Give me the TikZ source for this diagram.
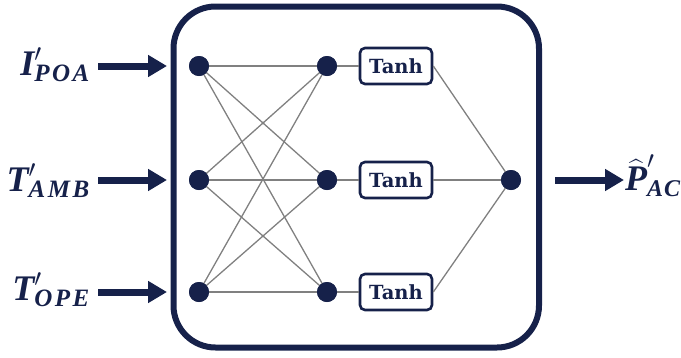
\documentclass[tikz,border=0pt]{standalone}
\usepackage{amsmath}
\usepackage{fontspec}
\newfontfamily\tanhfont{DejaVu Serif}
\newfontfamily\labfont{Liberation Serif}
\usetikzlibrary{arrows.meta}
\definecolor{navy}{RGB}{22,33,74}
\definecolor{wire}{RGB}{128,128,128}
\newcommand{\vv}[1]{\text{\labfont\bfseries\itshape #1}}
\newcommand{\vsub}[1]{\mbox{\labfont\bfseries\itshape\addfontfeatures{LetterSpace=10}\fontsize{25}{27}\selectfont #1}}
\newcommand{\vsubo}[1]{\mbox{\labfont\bfseries\itshape\addfontfeatures{LetterSpace=4}\fontsize{24}{27}\selectfont #1}}
\tikzset{
  neuron/.style={circle,fill=navy,minimum size=20pt,inner sep=0pt},
  actbox/.style={draw=navy,line width=2.6pt,rounded corners=5pt,minimum width=72pt,minimum height=36pt,inner sep=0pt,font=\tanhfont\bfseries\fontsize{19.5}{21}\selectfont,text=navy,fill=white},
  wire/.style={draw=wire,line width=1.3pt},
  bigarrow/.style={draw=navy,line width=7pt,-{Triangle[length=19pt,width=21pt]}},
  lab/.style={inner sep=0pt,text=navy,font=\fontsize{36}{40}\selectfont}
}
\begin{document}
\begin{tikzpicture}[x=1pt,y=-1pt]
\useasboundingbox (0,0) rectangle (681,357);
\draw[navy,line width=6pt,rounded corners=42pt] (173.5,6.5) rectangle (539,347.5);
% input neurons
\node[neuron] (i1) at (199,66) {};
\node[neuron] (i2) at (199,180) {};
\node[neuron] (i3) at (199,292) {};
% hidden neurons
\node[neuron] (h1) at (327,66) {};
\node[neuron] (h2) at (327,180) {};
\node[neuron] (h3) at (327,292) {};
% output neuron
\node[neuron] (o) at (511,180) {};
% activation boxes
\node[actbox] (t1) at (396,66) {Tanh};
\node[actbox] (t2) at (396,180) {Tanh};
\node[actbox] (t3) at (396,292) {Tanh};
% connections
\foreach \a in {i1,i2,i3}{\foreach \b in {h1,h2,h3}{\draw[wire] (\a.center) -- (\b.center);}}
\draw[wire] (h1) -- (t1); \draw[wire] (h2) -- (t2); \draw[wire] (h3) -- (t3);
\foreach \t in {t1,t2,t3}{\draw[wire] (\t.east) -- (o.center);}
\foreach \n in {i1,i2,i3,h1,h2,h3,o}{\node[neuron] at (\n) {};}
% input arrows
\coordinate (a1) at (98,66); \coordinate (a2) at (98,180); \coordinate (a3) at (98,292);
\coordinate (b1) at (167,66); \coordinate (b2) at (167,180); \coordinate (b3) at (167,292);
\draw[bigarrow] (a1) -- (b1);
\draw[bigarrow] (a2) -- (b2);
\draw[bigarrow] (a3) -- (b3);
\node[lab,anchor=base east] (l1) at (90,75) {$\vv{I}'_{\vsub{POA}}$};
\node[lab,anchor=base east] (l2) at (90,191) {$\vv{T}'_{\vsub{AMB}}$};
\node[lab,anchor=base east] (l3) at (90,300) {$\vv{T}'_{\vsub{OPE}}$};
% output arrow
\coordinate (c1) at (555,180); \coordinate (c2) at (624,180);
\draw[bigarrow] (c1) -- (c2);
\node[lab,anchor=base west] (lo) at (625,190) {$\widehat{\vv{P}}'_{\vsubo{AC}}$};
\end{tikzpicture}
\end{document}
